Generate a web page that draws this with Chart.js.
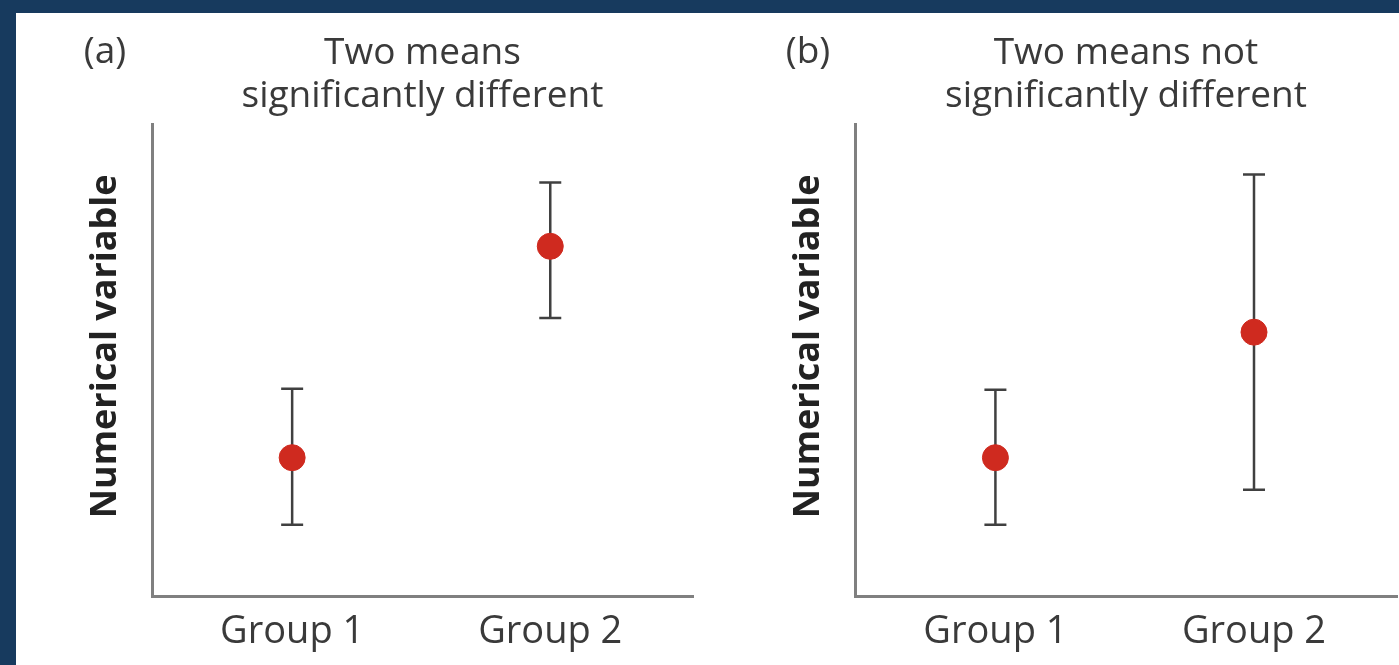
<!DOCTYPE html>
<html>
<head>
<meta charset="utf-8">
<script src="https://cdn.jsdelivr.net/npm/chart.js@4.4.1/dist/chart.umd.min.js"></script>
<style>
  body { margin:0; background:#173a5e; width:1399px; height:665px; overflow:hidden; position:relative; }
  #panel { position:absolute; left:16px; top:13px; width:1383px; height:652px; background:#fff; }
  canvas { position:absolute; top:0; }
  #chartA { left:0; }
  #chartB { left:700px; }
</style>
</head>
<body>
<div id="panel"></div>
<canvas id="chartA" width="700" height="665"></canvas>
<canvas id="chartB" width="699" height="665"></canvas>
<script>
const groups = ['Group 1', 'Group 2'];

// (a) two means significantly different
const meansA = [29.4, 74.2];
const lowA   = [15.2, 59.0];
const highA  = [44.0, 87.7];

// (b) two means not significantly different
const meansB = [29.4, 56.0];
const lowB   = [15.2, 22.6];
const highB  = [43.8, 89.4];

const yLabel = 'Numerical variable';
const textColor = '#3a3a3a';

// error bars drawn under the points
const errorBars = {
    id: 'errorBars',
    beforeDatasetsDraw(chart, args, opts) {
        const {ctx, scales: {x, y}} = chart;
        ctx.save();
        ctx.strokeStyle = '#404040';
        ctx.lineWidth = 2.5;
        opts.low.forEach((lo, i) => {
            const px = x.getPixelForValue(i + 1);
            const top = y.getPixelForValue(opts.high[i]);
            const bot = y.getPixelForValue(lo);
            ctx.beginPath();
            ctx.moveTo(px, top); ctx.lineTo(px, bot);
            ctx.moveTo(px - 11, top); ctx.lineTo(px + 11, top);
            ctx.moveTo(px - 11, bot); ctx.lineTo(px + 11, bot);
            ctx.stroke();
        });
        ctx.restore();
    }
};

// panel letter left of the title + rotated y label (sits a bit above middle)
const panelText = {
    id: 'panelText',
    afterDraw(chart, args, opts) {
        const {ctx, chartArea, titleBlock} = chart;
        ctx.save();
        ctx.fillStyle = textColor;
        ctx.textAlign = 'center';
        ctx.textBaseline = 'middle';
        ctx.font = '37px "Open Sans"';
        ctx.fillText(opts.tag, chartArea.left - 47, titleBlock.top + 20);

        ctx.fillStyle = '#222';
        ctx.font = 'bold 36px "Open Sans"';
        ctx.translate(chartArea.left - 46, chartArea.top + (chartArea.bottom - chartArea.top) * 0.47);
        ctx.rotate(-Math.PI / 2);
        ctx.fillText(yLabel, 0, 0);
        ctx.restore();
    }
};

function makeChart(id, title, tag, means, low, high, padLeft, padRight) {
    return new Chart(document.getElementById(id), {
        type: 'scatter',
        data: {
            datasets: [{
                data: means.map((v, i) => ({x: i + 1, y: v})),
                backgroundColor: '#cf2a1f',
                borderColor: '#cf2a1f',
                pointRadius: 13,
                pointHoverRadius: 13
            }]
        },
        plugins: [errorBars, panelText],
        options: {
            responsive: false,
            animation: false,
            devicePixelRatio: 1,
            layout: {
                autoPadding: false,
                padding: { top: 32, left: padLeft, right: padRight, bottom: -3 }
            },
            plugins: {
                legend: { display: false },
                tooltip: { enabled: false },
                title: {
                    display: true,
                    text: title,
                    fullSize: false,
                    color: textColor,
                    font: { family: 'Open Sans', size: 37, weight: 'normal', lineHeight: 1.17 },
                    padding: { top: 0, bottom: 6 }
                },
                errorBars: { low: low, high: high },
                panelText: { tag: tag }
            },
            scales: {
                x: {
                    type: 'linear',
                    min: 0.457,
                    max: 2.553,
                    afterBuildTicks: axis => { axis.ticks = groups.map((g, i) => ({value: i + 1})); },
                    grid: { display: false, drawTicks: false },
                    border: { color: '#808080', width: 3 },
                    ticks: {
                        callback: v => groups[v - 1],
                        color: textColor,
                        padding: 13,
                        font: { family: 'Open Sans', size: 38, lineHeight: 1.2 }
                    }
                },
                y: {
                    min: 0,
                    max: 100,
                    grid: { display: false, drawTicks: false },
                    border: { color: '#808080', width: 3 },
                    ticks: { display: false }
                }
            }
        }
    });
}

makeChart('chartA', ['Two means', 'significantly different'], '(a)', meansA, lowA, highA, 152, 7);
makeChart('chartB', ['Two means not', 'significantly different'], '(b)', meansB, lowB, highB, 155, 2);
</script>
</body>
</html>
